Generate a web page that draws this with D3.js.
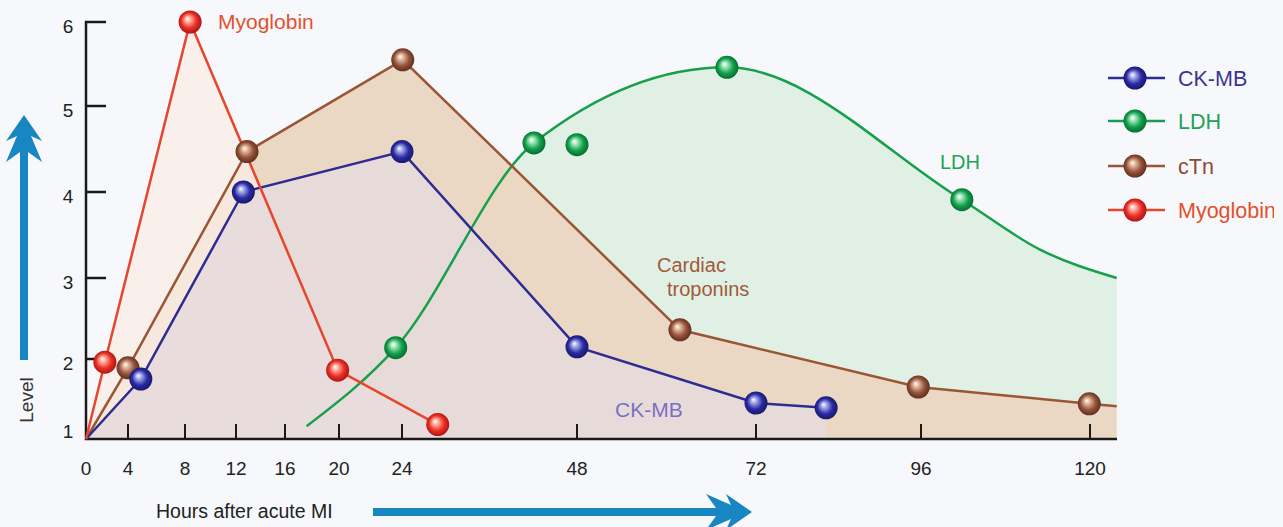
<!DOCTYPE html>
<html>
<head>
<meta charset="utf-8">
<script src="https://cdn.jsdelivr.net/npm/d3@7"></script>
<style>
  body { margin: 0; background: #f6f8fb; }
  svg { display: block; font-family: "Liberation Sans", Arial, sans-serif; }
</style>
</head>
<body>
<div id="chart"></div>
<script>
// tick values on the (non-uniform) hour axis and level axis
var xTicks = [0, 4, 8, 12, 16, 20, 24, 48, 72, 96, 120];
var yTicks = [1, 2, 3, 4, 5, 6];

// series: hours after MI / level
var ckmbHours  = [0, 4.9, 12.6, 24, 48, 72, 82.2];
var ckmbLevels = [1, 1.75, 4.0, 4.47, 2.15, 1.45, 1.39];

var ctnHours  = [0, 4, 12.9, 24.1, 61.8, 95.6, 119.9, 123.8];
var ctnLevels = [1, 1.89, 4.47, 5.55, 2.36, 1.65, 1.44, 1.41];

var myoHours  = [0, 1.8, 8.4, 19.9, 28.9];
var myoLevels = [1, 1.96, 6.0, 1.86, 1.18];

// LDH curve and its sample points
var ldhCurveHours  = [17.6, 23.6, 42.1, 68.1, 101.8, 112.9, 123.8];
var ldhCurveLevels = [1.16, 2.14, 4.57, 5.46, 3.91, 3.33, 3.0];
var ldhDotHours  = [23.6, 42.1, 48, 68.1, 101.8];
var ldhDotLevels = [2.14, 4.57, 4.55, 5.46, 3.91];

var legendNames = ["CK-MB", "LDH", "cTn", "Myoglobin"];

var W = 1283, H = 527;
var svg = d3.select("#chart").append("svg")
  .attr("width", W).attr("height", H);

var defs = svg.append("defs");

var colors = {
  ckmb: {line: "#2e2b92", fill: "#e6dbdc", ball: "#2a2ba6", hi: "#b4b8f0", dark: "#14145a", text: "#3a3592"},
  ldh:  {line: "#16a04b", fill: "#e1f0e5", ball: "#10a24b", hi: "#b6ecc8", dark: "#05602a", text: "#22a356"},
  ctn:  {line: "#9a5534", fill: "#ebd8c4", ball: "#93533a", hi: "#ecc4ac", dark: "#55281a", text: "#8c4a30"},
  myo:  {line: "#e8452c", fill: "#fbeee6", ball: "#ec2f26", hi: "#ffc0b0", dark: "#a01010", text: "#e4502c"}
};

Object.keys(colors).forEach(function (k) {
  var c = colors[k];
  var g = defs.append("radialGradient").attr("id", "ball-" + k)
    .attr("cx", "50%").attr("cy", "50%").attr("r", "55%")
    .attr("fx", "38%").attr("fy", "35%");
  g.append("stop").attr("offset", "0%").attr("stop-color", "#ffffff");
  g.append("stop").attr("offset", "18%").attr("stop-color", c.hi);
  g.append("stop").attr("offset", "60%").attr("stop-color", c.ball);
  g.append("stop").attr("offset", "100%").attr("stop-color", c.dark);
});

defs.append("clipPath").attr("id", "edge")
  .append("rect").attr("x", 0).attr("y", 0).attr("width", 1274).attr("height", H);

// piecewise axis as in the figure
var x = d3.scaleLinear()
  .domain(xTicks)
  .range([86, 128, 185, 236, 285, 339, 402, 577, 756, 921, 1090]);
var y = d3.scaleLinear()
  .domain(yTicks)
  .range([439, 359, 278, 192, 106, 22]);

function zip(hs, ls) {
  return hs.map(function (h, i) { return {h: h, v: ls[i]}; });
}

var ckmb = zip(ckmbHours, ckmbLevels);
var ctn = zip(ctnHours, ctnLevels);
var myo = zip(myoHours, myoLevels);
var ldhCurve = zip(ldhCurveHours, ldhCurveLevels);
var ldhDots = zip(ldhDotHours, ldhDotLevels);

var area = function (curve) {
  return d3.area()
    .x(function (d) { return x(d.h); })
    .y0(y(1))
    .y1(function (d) { return y(d.v); })
    .curve(curve);
};
var line = function (curve) {
  return d3.line()
    .x(function (d) { return x(d.h); })
    .y(function (d) { return y(d.v); })
    .curve(curve);
};

// filled areas
svg.append("path").datum(ldhCurve).attr("d", area(d3.curveMonotoneX)).attr("fill", colors.ldh.fill);
svg.append("path").datum(ctn).attr("d", area(d3.curveLinear)).attr("fill", colors.ctn.fill);
svg.append("path").datum(myo).attr("d", area(d3.curveLinear)).attr("fill", colors.myo.fill).attr("fill-opacity", 0.75);
svg.append("path").datum(ckmb).attr("d", area(d3.curveLinear)).attr("fill", colors.ckmb.fill).attr("fill-opacity", 0.9);

// axes
var axisG = svg.append("g").attr("stroke", "#1a1a1a").attr("stroke-width", 2.5).attr("fill", "none");
axisG.append("path").attr("d", "M" + (x(0) + 20) + "," + y(6) + "H" + x(0) + "V" + y(1) + "H1117");
axisG.selectAll("line.yt").data(yTicks.slice(1, 5)).enter().append("line")
  .attr("x1", x(0)).attr("x2", x(0) + 20)
  .attr("y1", function (d) { return y(d); }).attr("y2", function (d) { return y(d); });
axisG.selectAll("line.xt").data(xTicks.slice(1)).enter().append("line")
  .attr("stroke-width", 2)
  .attr("x1", function (d) { return x(d); }).attr("x2", function (d) { return x(d); })
  .attr("y1", y(1)).attr("y2", y(1) - 15);

svg.selectAll("text.yl").data(yTicks).enter().append("text")
  .attr("x", 68).attr("y", function (d) { return d === 1 ? y(d) - 1 : y(d) + 11; })
  .attr("text-anchor", "middle").attr("font-size", 19).attr("fill", "#222")
  .text(function (d) { return d; });
svg.selectAll("text.xl").data(xTicks).enter().append("text")
  .attr("x", function (d) { return x(d); }).attr("y", 475)
  .attr("text-anchor", "middle").attr("font-size", 19).attr("fill", "#222")
  .text(function (d) { return d; });

// lines
svg.append("path").datum(ldhCurve).attr("d", line(d3.curveMonotoneX))
  .attr("fill", "none").attr("stroke", colors.ldh.line).attr("stroke-width", 2.5);
svg.append("path").datum(ctn).attr("d", line(d3.curveLinear))
  .attr("fill", "none").attr("stroke", colors.ctn.line).attr("stroke-width", 2.5);
svg.append("path").datum(ckmb).attr("d", line(d3.curveLinear))
  .attr("fill", "none").attr("stroke", colors.ckmb.line).attr("stroke-width", 2.5);
svg.append("path").datum(myo).attr("d", line(d3.curveLinear))
  .attr("fill", "none").attr("stroke", colors.myo.line).attr("stroke-width", 2.5);

// balls
function balls(data, key) {
  svg.append("g").selectAll("circle").data(data).enter().append("circle")
    .attr("cx", function (d) { return x(d.h); })
    .attr("cy", function (d) { return y(d.v); })
    .attr("r", 11.5)
    .attr("fill", "url(#ball-" + key + ")");
}
balls(ldhDots, "ldh");
balls(ctn.slice(1, ctn.length - 1), "ctn");
balls(ckmb.slice(1), "ckmb");
balls(myo.slice(1), "myo");

// in-chart labels
svg.append("text").attr("x", 218).attr("y", 29).attr("font-size", 21)
  .attr("fill", colors.myo.text).text("Myoglobin");
svg.append("text").attr("x", 940).attr("y", 169).attr("font-size", 20)
  .attr("fill", colors.ldh.text).text("LDH");
svg.append("text").attr("x", 657).attr("y", 272).attr("font-size", 20)
  .attr("fill", "#a05a3a").text("Cardiac");
svg.append("text").attr("x", 667).attr("y", 296).attr("font-size", 20)
  .attr("fill", "#a05a3a").text("troponins");
svg.append("text").attr("x", 615).attr("y", 417).attr("font-size", 21)
  .attr("fill", "#7a70c4").text("CK-MB");

// legend
var legKeys = ["ckmb", "ldh", "ctn", "myo"];
var leg = svg.append("g").attr("clip-path", "url(#edge)")
  .selectAll("g").data(legendNames).enter().append("g")
  .attr("transform", function (d, i) { return "translate(0," + [78, 121, 166, 210][i] + ")"; });
leg.append("line").attr("x1", 1108).attr("x2", 1165).attr("y1", 0).attr("y2", 0)
  .attr("stroke-width", 2.5)
  .attr("stroke", function (d, i) { return colors[legKeys[i]].line; });
leg.append("circle").attr("cx", 1135).attr("cy", 0).attr("r", 11.5)
  .attr("fill", function (d, i) { return "url(#ball-" + legKeys[i] + ")"; });
leg.append("text").attr("x", 1178).attr("y", 8).attr("font-size", 21.5)
  .attr("fill", function (d, i) { return colors[legKeys[i]].text; })
  .text(function (d) { return d; });

// axis arrows
var arrowBlue = "#1886c2";
svg.append("path").attr("fill", arrowBlue)
  .attr("d", "M24,115 L42,141 L31,136 L42,162 L28,152 L28,360 L20,360 L20,152 L6,162 L17,136 L6,141 Z");
svg.append("path").attr("fill", arrowBlue)
  .attr("d", "M752,512 L726,530 L731,519 L706,530 L716,516 L373,516 L373,508 L716,508 L706,494 L731,505 L726,494 Z");

svg.append("text").attr("transform", "translate(33,400) rotate(-90)")
  .attr("text-anchor", "middle").attr("font-size", 19).attr("fill", "#333").text("Level");
svg.append("text").attr("x", 156).attr("y", 518).attr("font-size", 19.5)
  .attr("fill", "#222").text("Hours after acute MI");
</script>
</body>
</html>
